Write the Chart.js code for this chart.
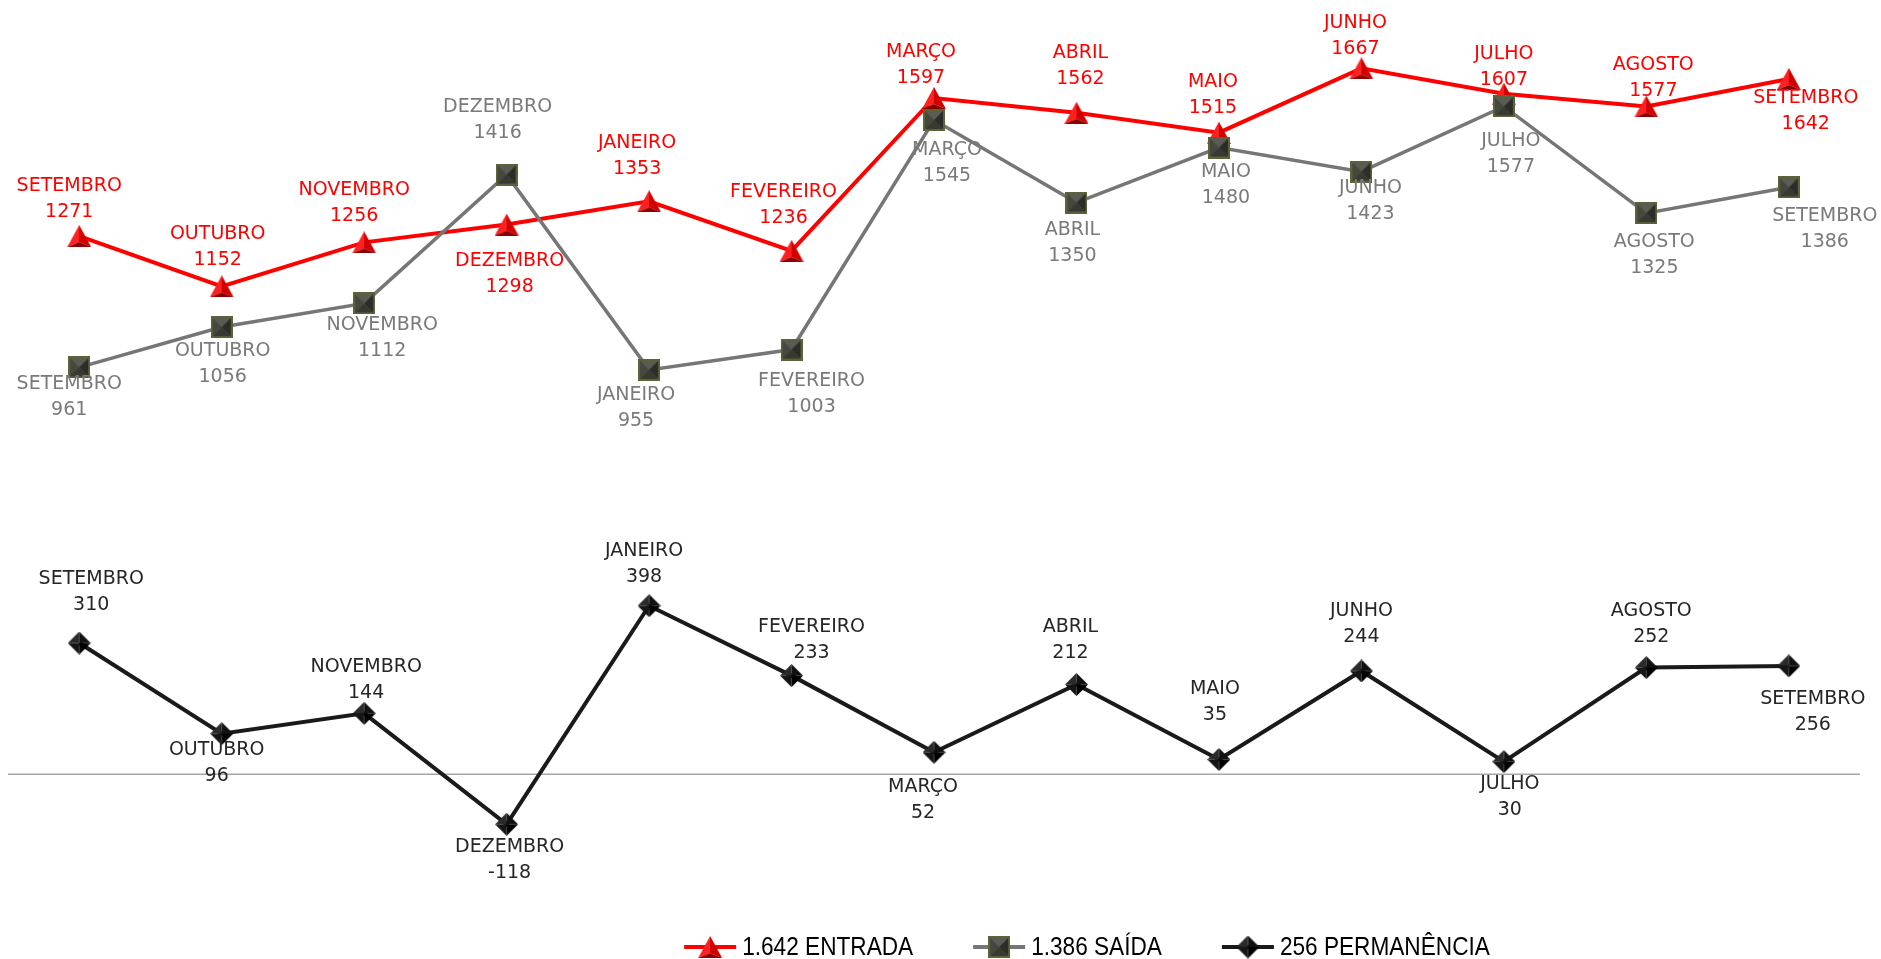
<!DOCTYPE html>
<html lang="pt-BR">
<head>
<meta charset="utf-8">
<title>Entrada, Saída e Permanência</title>
<script src="https://cdn.jsdelivr.net/npm/chart.js@4.4.1/dist/chart.umd.min.js"></script>
<style>
    html, body { margin: 0; padding: 0; background: #fff; }
    #wrap { width: 1881px; height: 959px; position: relative; }
</style>
</head>
<body>
<div id="wrap"><canvas id="grafico"></canvas></div>
<script>
// Meses (setembro a setembro)
const meses = ['SETEMBRO', 'OUTUBRO', 'NOVEMBRO', 'DEZEMBRO', 'JANEIRO', 'FEVEREIRO', 'MARÇO',
    'ABRIL', 'MAIO', 'JUNHO', 'JULHO', 'AGOSTO', 'SETEMBRO'];

// Séries
const entrada = [1271, 1152, 1256, 1298, 1353, 1236, 1597, 1562, 1515, 1667, 1607, 1577, 1642];
const saida = [961, 1056, 1112, 1416, 955, 1003, 1545, 1350, 1480, 1423, 1577, 1325, 1386];
const permanencia = [310, 96, 144, -118, 398, 233, 52, 212, 35, 244, 30, 252, 256];

// Deslocamento dos rótulos [dx, dy] em px (dy = centro da linha do valor em relação ao ponto)
const rotEntrada = [[-10, -24], [-4, -26], [-10, -26], [3, 62], [-12, -32], [-8, -33], [-13, -20],
    [4, -34], [-6, -25], [-6, -19], [0, -14], [7, -15], [17, 45]];
const rotSaida = [[-10, 43], [1, 50], [18, 48], [-9, -42], [-13, 51], [20, 58], [13, 56],
    [-4, 53], [7, 51], [9, 42], [7, 61], [8, 55], [36, 55]];
const rotPermanencia = [[12, -38], [-5, 42], [2, -20], [3, 49], [-5, -29], [20, -23], [-11, 61],
    [-6, -31], [-4, -44], [0, -34], [6, 48], [5, -31], [24, 59]];

// Marcadores com efeito 3D (pirâmide)
function face(g, pts, cor) {
    g.beginPath();
    g.moveTo(pts[0][0], pts[0][1]);
    for (let i = 1; i < pts.length; i++) g.lineTo(pts[i][0], pts[i][1]);
    g.closePath();
    g.fillStyle = cor;
    g.fill();
}

function marcadorTriangulo() {
    const c = document.createElement('canvas');
    c.width = 24; c.height = 22;
    const g = c.getContext('2d');
    face(g, [[12, 0], [0, 22], [12, 17]], '#ff2020');
    face(g, [[12, 0], [24, 22], [12, 17]], '#d00000');
    face(g, [[0, 22], [24, 22], [12, 17]], '#8e0000');
    return c;
}

function marcadorQuadrado() {
    const c = document.createElement('canvas');
    c.width = 22; c.height = 22;
    const g = c.getContext('2d');
    g.fillStyle = '#5b6339';
    g.fillRect(0, 0, 22, 22);
    face(g, [[2, 2], [20, 2], [11, 11]], '#5a5b55');
    face(g, [[2, 2], [2, 20], [11, 11]], '#46473f');
    face(g, [[20, 2], [20, 20], [11, 11]], '#2c2d28');
    face(g, [[2, 20], [20, 20], [11, 11]], '#383933');
    return c;
}

function marcadorLosango() {
    const c = document.createElement('canvas');
    c.width = 23; c.height = 23;
    const g = c.getContext('2d');
    face(g, [[11.5, 0], [0, 11.5], [11.5, 11.5]], '#2a2a2a');
    face(g, [[11.5, 0], [23, 11.5], [11.5, 11.5]], '#111');
    face(g, [[0, 11.5], [11.5, 23], [11.5, 11.5]], '#151515');
    face(g, [[23, 11.5], [11.5, 23], [11.5, 11.5]], '#000');
    return c;
}

const mkEntrada = marcadorTriangulo();
const mkSaida = marcadorQuadrado();
const mkPerm = marcadorLosango();

function milhar(v) {
    return String(v).replace(/\B(?=(\d{3})+(?!\d))/g, '.');
}

// Rótulos: mês + valor
const rotulos = {
    id: 'rotulos',
    afterDatasetsDraw(chart) {
        const ctx = chart.ctx;
        ctx.save();
        ctx.font = '19px "DejaVu Sans", sans-serif';
        ctx.textAlign = 'center';
        ctx.textBaseline = 'middle';
        chart.data.datasets.forEach((ds, di) => {
            const meta = chart.getDatasetMeta(di);
            ctx.fillStyle = ds.corTexto;
            meta.data.forEach((pt, i) => {
                const [dx, dy] = ds.rotulos[i];
                const x = pt.x + dx;
                const yv = pt.y + dy;
                ctx.fillText(meses[i], x, yv - 26);
                ctx.fillText(String(ds.data[i]), x, yv);
            });
        });
        ctx.restore();
    }
};

// Linha do zero
const linhaZero = {
    id: 'linhaZero',
    beforeDatasetsDraw(chart) {
        const ctx = chart.ctx;
        const y = chart.scales.y.getPixelForValue(0);
        ctx.save();
        ctx.strokeStyle = '#a6a6a6';
        ctx.lineWidth = 1.5;
        ctx.beginPath();
        ctx.moveTo(chart.chartArea.left, y);
        ctx.lineTo(chart.chartArea.right, y);
        ctx.stroke();
        ctx.restore();
    }
};

// Legenda inferior (linha + marcador + texto estreito)
const legenda = {
    id: 'legenda',
    afterDraw(chart) {
        const ctx = chart.ctx;
        const estreito = 0.87;
        ctx.save();
        ctx.font = '26px "Liberation Sans", sans-serif';
        ctx.textBaseline = 'middle';
        const itens = chart.data.datasets.map(ds => ({
            texto: milhar(ds.data[ds.data.length - 1]) + ' ' + ds.label,
            cor: ds.borderColor,
            mk: ds.pointStyle
        }));
        const larguraLinha = 52, folga = 6, espaco = 60;
        let total = 0;
        itens.forEach(it => {
            it.w = ctx.measureText(it.texto).width * estreito;
            total += larguraLinha + folga + it.w;
        });
        total += espaco * (itens.length - 1);
        let x = 1087 - total / 2;
        const y = 947;
        itens.forEach(it => {
            ctx.strokeStyle = it.cor;
            ctx.lineWidth = 4;
            ctx.beginPath();
            ctx.moveTo(x, y);
            ctx.lineTo(x + larguraLinha, y);
            ctx.stroke();
            ctx.drawImage(it.mk, x + larguraLinha / 2 - it.mk.width / 2, y - it.mk.height / 2);
            ctx.save();
            ctx.translate(x + larguraLinha + folga, y + 1);
            ctx.scale(estreito, 1);
            ctx.fillStyle = '#000';
            ctx.fillText(it.texto, 0, 0);
            ctx.restore();
            x += larguraLinha + folga + it.w + espaco;
        });
        ctx.restore();
    }
};

const ctx = document.getElementById('grafico').getContext('2d');
new Chart(ctx, {
    type: 'line',
    data: {
        labels: meses,
        datasets: [
            {
                label: 'ENTRADA',
                data: entrada,
                borderColor: '#ff0000',
                borderWidth: 4,
                pointStyle: mkEntrada,
                pointRadius: 11,
                corTexto: '#ff0000',
                rotulos: rotEntrada,
                order: 2
            },
            {
                label: 'SAÍDA',
                data: saida,
                borderColor: '#767676',
                borderWidth: 3.5,
                pointStyle: mkSaida,
                pointRadius: 11,
                corTexto: '#7a7a7a',
                rotulos: rotSaida,
                order: 1
            },
            {
                label: 'PERMANÊNCIA',
                data: permanencia,
                borderColor: '#1a1a1a',
                borderWidth: 4,
                pointStyle: mkPerm,
                pointRadius: 11,
                corTexto: '#262626',
                rotulos: rotPermanencia,
                order: 0
            }
        ]
    },
    options: {
        responsive: true,
        maintainAspectRatio: false,
        animation: false,
        layout: {
            autoPadding: false,
            padding: { left: 8, right: 21, top: 12, bottom: 100 }
        },
        elements: {
            line: { tension: 0 }
        },
        scales: {
            x: { display: false, offset: true },
            y: { display: false, min: -200, max: 1800 }
        },
        plugins: {
            legend: { display: false },
            tooltip: { enabled: false }
        }
    },
    plugins: [linhaZero, rotulos, legenda]
});
</script>
</body>
</html>
